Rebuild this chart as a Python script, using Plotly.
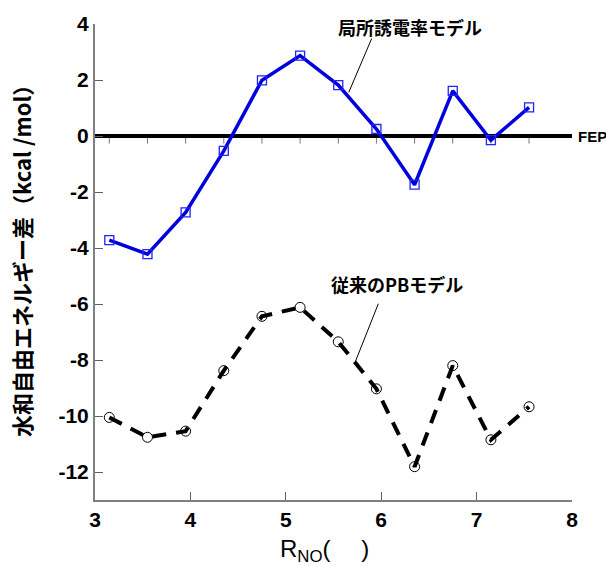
import plotly.graph_objects as go

r_no = [3.15, 3.55, 3.95, 4.35, 4.75, 5.15, 5.55, 5.95, 6.35, 6.75, 7.15, 7.55]
local_dielectric = [-3.72, -4.22, -2.73, -0.53, 1.99, 2.87, 1.82, 0.25, -1.74, 1.61, -0.15, 1.02]
conventional_pb = [-10.05, -10.76, -10.54, -8.38, -6.44, -6.12, -7.35, -9.03, -11.81, -8.20, -10.85, -9.67]
fep_x = [3, 8]
fep_y = [0, 0]
x_ticks = [3, 4, 5, 6, 7, 8]
y_ticks = [-12, -10, -8, -6, -4, -2, 0, 2, 4]

font_lat = "Liberation Sans, Arial, sans-serif"
font_jp = "Noto Sans CJK JP, sans-serif"

fig = go.Figure()

fig.add_trace(go.Scatter(
    x=r_no, y=[-0.12] * len(r_no), mode="markers",
    marker=dict(symbol="line-ns-open", size=6, color="#777777", line=dict(color="#777777", width=1)),
    showlegend=False, hoverinfo="skip"))
fig.add_trace(go.Scatter(
    x=fep_x, y=fep_y, mode="lines",
    line=dict(color="black", width=4), showlegend=False, hoverinfo="skip"))

fig.add_trace(go.Scatter(
    x=r_no, y=local_dielectric, mode="lines+markers",
    line=dict(color="#0000dd", width=3.5),
    marker=dict(symbol="square-open", size=9, color="#2222ff", line=dict(color="#2222ff", width=1.3)),
    showlegend=False))

fig.add_trace(go.Scatter(
    x=r_no, y=conventional_pb, mode="lines+markers",
    line=dict(color="black", width=4, dash="14px,10px"),
    marker=dict(symbol="circle-open", size=10, color="black", line=dict(color="black", width=1)),
    showlegend=False))

# pointer lines
fig.add_shape(type="line", x0=5.90, y0=3.48, x1=5.66, y1=1.56, line=dict(color="black", width=1))
fig.add_shape(type="line", x0=5.97, y0=-5.99, x1=5.73, y1=-8.05, line=dict(color="black", width=1))

fig.add_annotation(x=6.30, y=1, yref="paper", yanchor="middle", yshift=-3,
                   text="<b>局所誘電率モデル</b>", showarrow=False,
                   font=dict(family=font_jp, size=18, color="black"))
fig.add_annotation(x=6.17, y=-5.28, text="<b>従来のPBモデル</b>", showarrow=False,
                   font=dict(family=font_jp, size=18, color="black"))
fig.add_annotation(x=1, xref="paper", y=0, xanchor="left", xshift=4, text="<b>FEP</b>", showarrow=False,
                   font=dict(family=font_lat, size=15, color="black"))

fig.add_annotation(x=0, xref="paper", y=0.5, yref="paper", xanchor="center", yanchor="middle",
                   xshift=-74, yshift=6, textangle=-90,
                   text="<b>水和自由エネルギー差（kcal /mol）</b>", showarrow=False,
                   font=dict(family=font_jp, size=22, color="black"))
fig.add_annotation(x=5.41, y=0, yref="paper", yshift=-50, yanchor="middle",
                   text="R<sub>NO</sub>(\u3000 )", showarrow=False,
                   font=dict(family=font_lat, size=24, color="black"))

axis_common = dict(showgrid=False, zeroline=False, showline=True, linecolor="#808080", linewidth=2,
                   ticks="inside", ticklen=8, tickcolor="#606060", tickwidth=1,
                   tickfont=dict(family=font_lat, size=21, color="black"), mirror=False)

fig.update_xaxes(range=[3, 8], tickvals=x_ticks, ticktext=[f"<b>{v}</b>" for v in x_ticks], **axis_common)
fig.update_yaxes(range=[-13, 4], tickvals=y_ticks, ticktext=[f"<b>{v}</b>" for v in y_ticks], **axis_common)

fig.update_layout(
    width=606, height=566,
    margin=dict(l=95, r=34, t=21, b=66),
    paper_bgcolor="white", plot_bgcolor="white",
    showlegend=False,
)

fig.write_html("out.html", config={"displayModeBar": False},
               post_script="document.body.style.margin='0';document.body.style.overflow='hidden';")
